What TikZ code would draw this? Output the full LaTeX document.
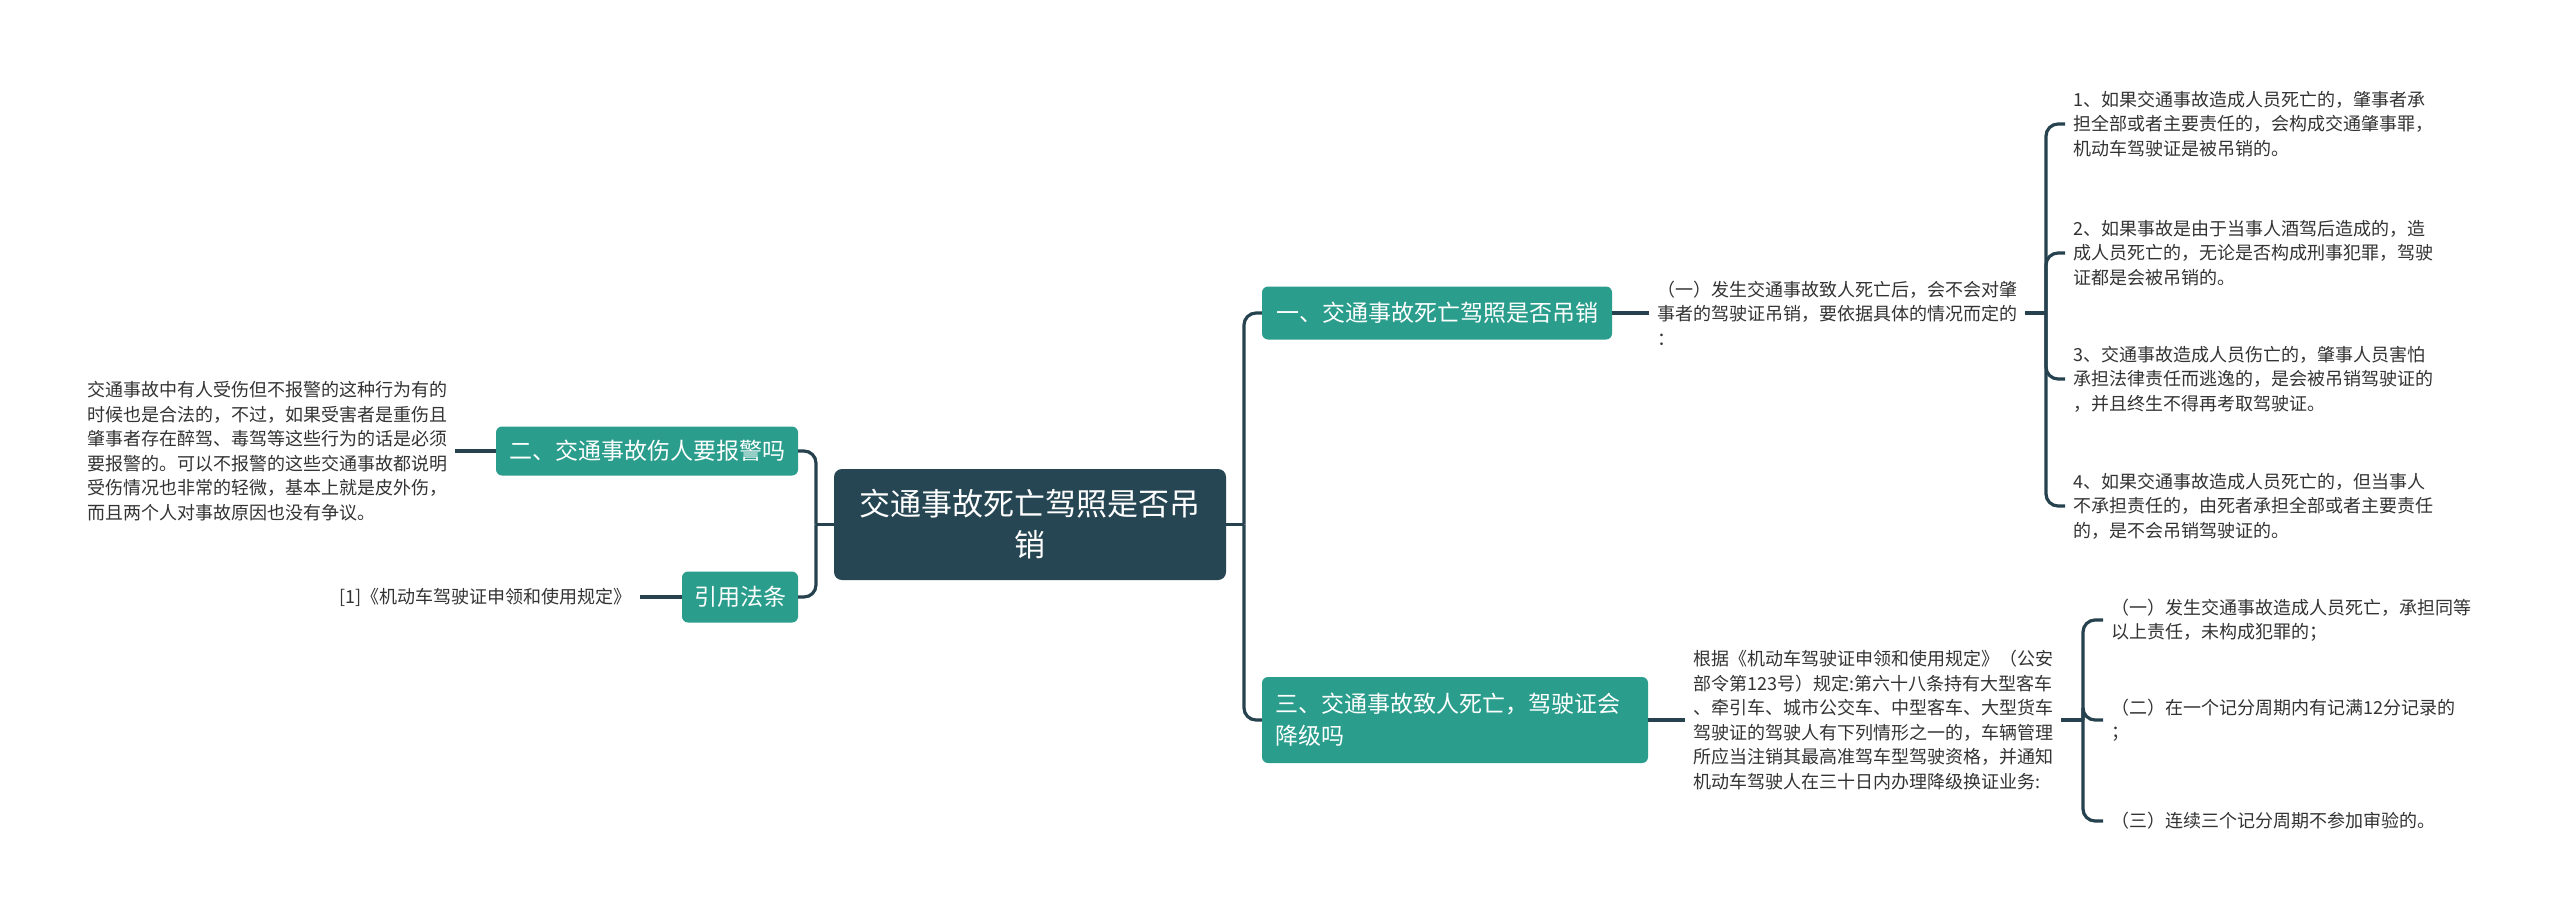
\documentclass[tikz,border=0pt]{standalone}
\usepackage{fontspec}
\setmainfont{Noto Sans CJK SC}
\definecolor{rootc}{RGB}{38,70,83}
\definecolor{tealc}{RGB}{42,157,140}
\definecolor{linec}{RGB}{38,66,78}
\definecolor{leafc}{RGB}{51,51,51}
\begin{document}
\begin{tikzpicture}[x=1pt,y=-1pt,
  rootbox/.style={fill=rootc, rounded corners=8pt, text=white, font={\fontsize{31}{41}\selectfont}, align=center, minimum width=392pt, minimum height=111pt, inner sep=0pt},
  topicbox/.style={fill=tealc, rounded corners=6pt, text=white, font={\fontsize{23}{32}\selectfont}, inner sep=0pt},
  leaf/.style={text=leafc, font={\fontsize{18}{24.5}\selectfont}, align=left, inner xsep=8pt, inner ysep=0pt},
  link/.style={draw=linec, line width=3.2pt, rounded corners=12pt}]
\useasboundingbox (0,0) rectangle (2560,916);
\fill[white] (0,0) rectangle (2560,916);

% root
\node[rootbox] (root) at (1030,524.5) {交通事故死亡驾照是否吊\\销};

% topics
\node[topicbox, minimum width=350pt, minimum height=53pt] (n1) at (1437,313) {一、交通事故死亡驾照是否吊销};
\node[topicbox, minimum width=386pt, minimum height=86pt, text width=360pt, align=left] (n3) at (1455,720) {三、交通事故致人死亡，驾驶证会\\降级吗};
\node[topicbox, minimum width=302pt, minimum height=49pt] (n2) at (647,451) {二、交通事故伤人要报警吗};
\node[topicbox, minimum width=116pt, minimum height=51pt] (nref) at (740,597) {引用法条};

% leaves
\node[leaf, anchor=west] (t1) at (1649,313) {（一）发生交通事故致人死亡后，会不会对肇\\事者的驾驶证吊销，要依据具体的情况而定的\\：};
\node[leaf, anchor=west] (i1) at (2065,124) {1、如果交通事故造成人员死亡的，肇事者承\\担全部或者主要责任的，会构成交通肇事罪，\\机动车驾驶证是被吊销的。};
\node[leaf, anchor=west] (i2) at (2065,253) {2、如果事故是由于当事人酒驾后造成的，造\\成人员死亡的，无论是否构成刑事犯罪，驾驶\\证都是会被吊销的。};
\node[leaf, anchor=west] (i3) at (2065,379) {3、交通事故造成人员伤亡的，肇事人员害怕\\承担法律责任而逃逸的，是会被吊销驾驶证的\\，并且终生不得再考取驾驶证。};
\node[leaf, anchor=west] (i4) at (2065,506) {4、如果交通事故造成人员死亡的，但当事人\\不承担责任的，由死者承担全部或者主要责任\\的，是不会吊销驾驶证的。};

\node[leaf, anchor=west] (t3) at (1685,720) {根据《机动车驾驶证申领和使用规定》（公安\\部令第123号）规定:第六十八条持有大型客车\\、牵引车、城市公交车、中型客车、大型货车\\驾驶证的驾驶人有下列情形之一的，车辆管理\\所应当注销其最高准驾车型驾驶资格，并通知\\机动车驾驶人在三十日内办理降级换证业务:};
\node[leaf, anchor=west] (s1) at (2103,620) {（一）发生交通事故造成人员死亡，承担同等\\以上责任，未构成犯罪的；};
\node[leaf, anchor=west] (s2) at (2103,720) {（二）在一个记分周期内有记满12分记录的\\；};
\node[leaf, anchor=west] (s3) at (2103,821) {（三）连续三个记分周期不参加审验的。};

\node[leaf, anchor=west] (t2) at (79,451) {交通事故中有人受伤但不报警的这种行为有的\\时候也是合法的，不过，如果受害者是重伤且\\肇事者存在醉驾、毒驾等这些行为的话是必须\\要报警的。可以不报警的这些交通事故都说明\\受伤情况也非常的轻微，基本上就是皮外伤，\\而且两个人对事故原因也没有争议。};
\node[leaf, anchor=east] (tref) at (640,597) {[1]《机动车驾驶证申领和使用规定》};

% junctions
\coordinate (jr) at (1244,524.5);
\coordinate (jl) at (816,524.5);
\coordinate (j1) at (2046,313);
\coordinate (j3) at (2083,720);

% connectors
\draw[link] (root.east) -- (jr);
\draw[link] (jr) |- (n1.west);
\draw[link] (jr) |- (n3.west);
\draw[link] (root.west) -- (jl);
\draw[link] (jl) |- (n2.east);
\draw[link] (jl) |- (nref.east);

\draw[link] (n1.east) -- (t1.west);
\draw[link] (t1.east) -- (j1);
\draw[link] (j1) |- (i1.west);
\draw[link] (j1) |- (i2.west);
\draw[link] (j1) |- (i3.west);
\draw[link] (j1) |- (i4.west);

\draw[link] (n3.east) -- (t3.west);
\draw[link] (t3.east) -- (j3);
\draw[link] (j3) |- (s1.west);
\draw[link] (j3) |- (s2.west);
\draw[link] (j3) |- (s3.west);

\draw[link] (n2.west) -- (t2.east);
\draw[link] (nref.west) -- (tref.east);
\end{tikzpicture}
\end{document}
